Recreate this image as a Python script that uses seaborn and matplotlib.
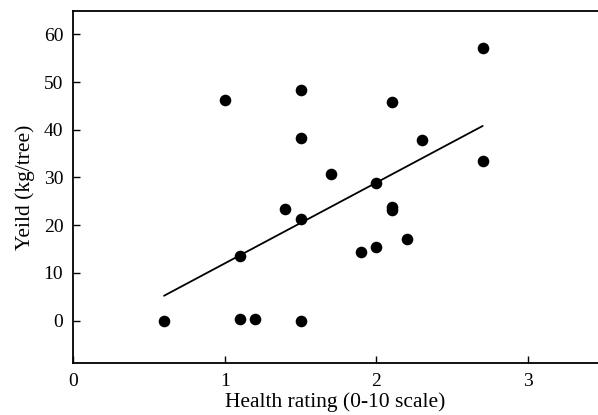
import matplotlib
matplotlib.use("Agg")
import matplotlib.pyplot as plt
import seaborn as sns
import pandas as pd

# Data
health = [0.6, 1.0, 1.1, 1.1, 1.2, 1.4, 1.5, 1.5, 1.5, 1.5, 1.7,
          1.9, 2.0, 2.0, 2.1, 2.1, 2.1, 2.2, 2.3, 2.7, 2.7]
yield_kg = [0.0, 46.3, 13.6, 0.3, 0.4, 23.4, 48.4, 38.3, 21.3, 0.0, 30.7,
            14.3, 28.9, 15.4, 45.8, 23.2, 23.8, 17.1, 37.9, 57.1, 33.4]
fit_x = [0.6, 2.7]
fit_y = [5.2, 40.8]
x_ticks = [0, 1, 2, 3]
y_ticks = [0, 10, 20, 30, 40, 50, 60]

df = pd.DataFrame({"health": health, "yield": yield_kg})
fit = pd.DataFrame({"x": fit_x, "y": fit_y})

sns.set_theme(style="white")
plt.rcParams["font.family"] = ["Liberation Serif", "DejaVu Serif"]

fig = plt.figure(figsize=(5.98, 4.15), dpi=100)
ax = fig.add_axes([73 / 598, 52 / 415, 1 - 73 / 598, (363 - 11) / 415])

sns.lineplot(data=fit, x="x", y="y", ax=ax, color="black", linewidth=1.3)
sns.scatterplot(data=df, x="health", y="yield", ax=ax, color="black",
                s=70, edgecolor="black", linewidth=0, zorder=3)

ax.set_xlim(0, 3.46)
ax.set_ylim(-8.9, 64.9)
ax.set_xticks(x_ticks)
ax.set_yticks(y_ticks)
ax.tick_params(bottom=True, left=True, direction="in", length=5, width=1,
               colors="black", labelsize=14, pad=7)
for side in ["left", "bottom", "top"]:
    ax.spines[side].set_visible(True)
    ax.spines[side].set_color("black")
    ax.spines[side].set_linewidth(1.3)
ax.spines["right"].set_visible(False)

ax.set_xlabel("Health rating (0-10 scale)", fontsize=15.5, color="black", labelpad=2)
ax.set_ylabel("Yeild (kg/tree)", fontsize=15.5, color="black", labelpad=6)

fig.savefig("out.png", dpi=100)
